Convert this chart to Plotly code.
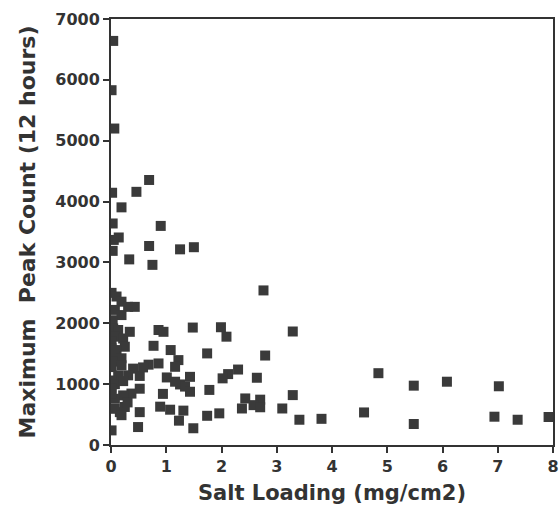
import plotly.graph_objects as go

# Salt loading (mg/cm2) and maximum 12-hour peak count for each sample
salt_loading = [
    0.04, 0.01, 0.06, 0.69, 0.46, 0.02, 0.19, 0.90, 0.03, 0.14, 0.05, 0.69,
    1.25, 1.50, 0.03, 0.33, 0.75, 2.76,
    0.01, 0.10, 0.19, 0.31, 0.43, 0.07, 0.19, 0.03, 0.04, 0.13, 0.34, 0.07,
    0.22, 0.01, 0.25, 0.01, 0.10, 0.07, 0.19, 0.03, 0.01, 0.19, 0.40, 0.13,
    0.31, 0.01, 0.07, 0.22, 0.52, 0.37, 0.22, 0.07, 0.01, 0.01, 0.16, 0.07,
    0.25, 0.52, 0.49, 0.01, 0.30,
    0.86, 0.95, 1.48, 1.99, 2.09, 3.29, 0.77, 1.08, 1.74, 2.79, 1.22, 1.16,
    0.68, 0.86, 0.58, 2.30, 2.12, 2.02, 2.64, 1.01, 1.43, 0.52, 1.25, 1.16,
    1.34, 1.43, 0.94, 1.78, 3.29, 2.43, 2.70, 2.58, 2.37, 2.70, 3.10, 0.89,
    1.07, 1.31, 1.23, 1.74, 1.96, 3.41, 3.81, 0.19, 1.49,
    4.84, 5.48, 6.08, 7.02, 4.58, 5.48, 6.94, 7.36, 7.92,
]
peak_count = [
    6640, 5830, 5200, 4355, 4160, 4145, 3905, 3600, 3640, 3410, 3370, 3270,
    3215, 3250, 3190, 3050, 2960, 2540,
    2500, 2440, 2355, 2270, 2270, 2220, 2135, 2050, 1915, 1890, 1860, 1780,
    1750, 1700, 1615, 1590, 1560, 1450, 1425, 1370, 1280, 1310, 1255, 1145,
    1145, 1060, 1000, 1050, 925, 845, 815, 760, 925, 840, 540, 595,
    625, 540, 295, 240, 700,
    1890, 1860, 1930, 1935, 1780, 1865, 1630, 1560, 1505, 1470, 1395, 1285,
    1320, 1340, 1275, 1240, 1165, 1095, 1105, 1110, 1120, 1135, 995, 1040,
    960, 875, 840, 905, 820, 765, 745, 655, 600, 620, 600, 630,
    580, 565, 400, 480, 520, 415, 430, 490, 275,
    1180, 975, 1040, 965, 535, 345, 465, 415, 460,
]

x_ticks = [0, 1, 2, 3, 4, 5, 6, 7, 8]
y_ticks = [0, 1000, 2000, 3000, 4000, 5000, 6000, 7000]

ink = "#333333"
font_family = "DejaVu Sans"

fig = go.Figure(
    go.Scatter(
        x=salt_loading,
        y=peak_count,
        mode="markers",
        marker=dict(symbol="square", size=10, color="#3a3a3a", line=dict(width=0)),
    )
)

axis_common = dict(
    showline=True,
    linecolor=ink,
    linewidth=2,
    mirror=True,
    ticks="outside",
    ticklen=6,
    tickwidth=2,
    tickcolor=ink,
    showgrid=False,
    zeroline=False,
    automargin=False,
    tickfont=dict(family=font_family, size=16, color=ink, weight="bold"),
)

fig.update_xaxes(
    range=[0, 8],
    tickvals=x_ticks,
    title=dict(
        text="Salt Loading (mg/cm2)",
        font=dict(family=font_family, size=21, color=ink, weight="bold"),
        standoff=10,
    ),
    **axis_common,
)
fig.update_yaxes(
    range=[0, 7000],
    tickvals=y_ticks,
    title=dict(
        text="Maximum  Peak Count (12 hours)",
        font=dict(family=font_family, size=22, color=ink, weight="bold"),
        standoff=14,
    ),
    **axis_common,
)

fig.update_layout(
    width=559,
    height=508,
    margin=dict(l=111, r=6, t=19, b=63),
    paper_bgcolor="white",
    plot_bgcolor="white",
    showlegend=False,
)

fig.write_html("out.html")
